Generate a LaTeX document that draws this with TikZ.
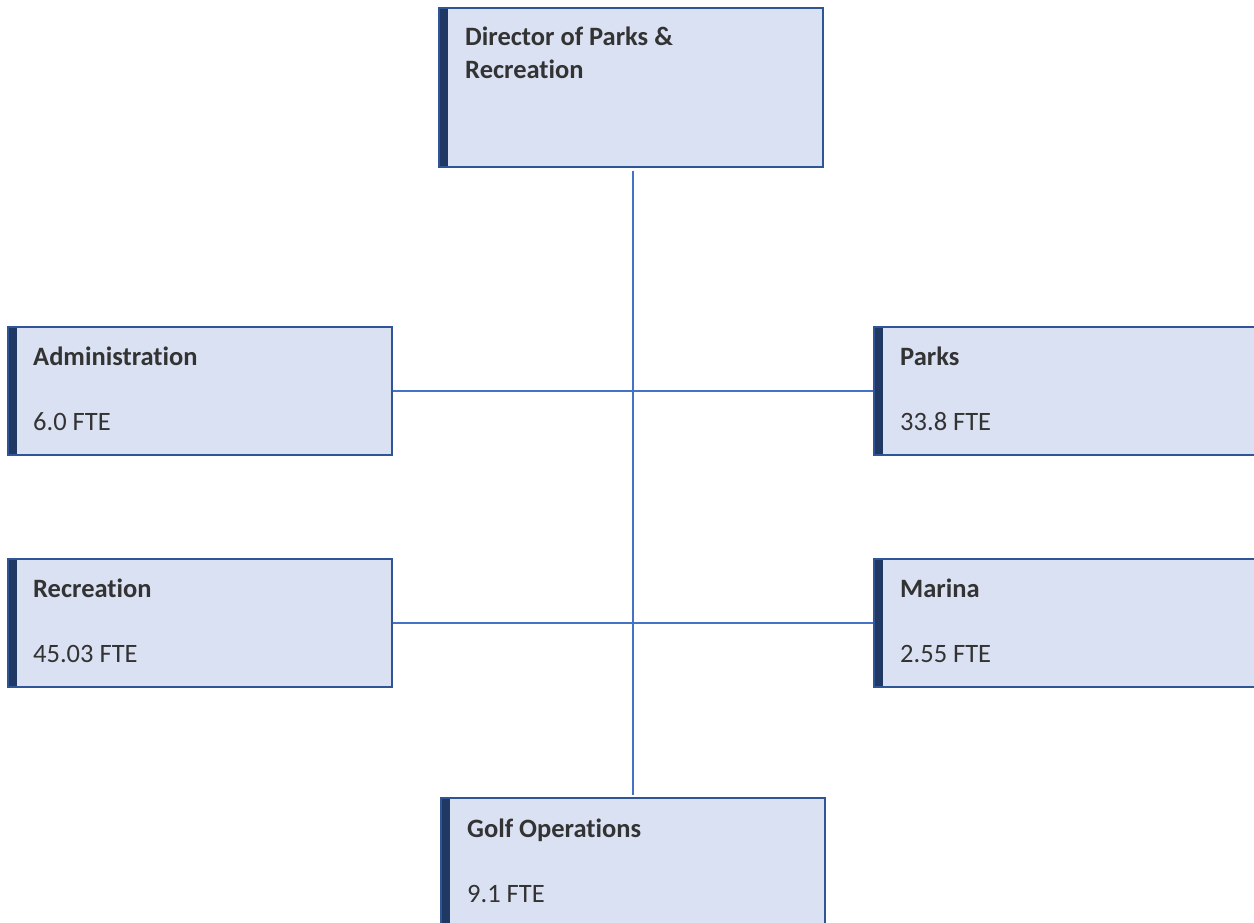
\documentclass[tikz,border=0pt]{standalone}
\usepackage{fontspec}
\setmainfont{Carlito}[Ligatures=NoCommon]
\definecolor{boxfill}{HTML}{DAE1F3}
\definecolor{boxborder}{HTML}{2F5597}
\definecolor{barcol}{HTML}{1F3864}
\definecolor{linecol}{HTML}{4472C4}
\definecolor{txt}{HTML}{333333}
\begin{document}
\begin{tikzpicture}[x=1pt,y=-1pt,
  box/.style={draw=boxborder, line width=1.6pt, fill=boxfill,
    minimum width=384pt, minimum height=128pt, inner sep=0pt, anchor=north west,
    path picture={\fill[barcol] (path picture bounding box.north west) rectangle ([xshift=9pt]path picture bounding box.south west);}},
  title/.style={anchor=base west, inner sep=0pt, font=\fontsize{26.5}{33}\selectfont\bfseries, text=txt, align=left},
  fte/.style={anchor=base west, inner sep=0pt, font=\fontsize{26.5}{33}\selectfont, text=txt},
  conn/.style={draw=linecol, line width=2pt}]
\clip (0,0) rectangle (1254,923);
\fill[white] (0,0) rectangle (1254,923);
% boxes
\node[box, minimum height=159pt] (dir) at (438,7) {};
\node[box] (adm) at (7,326) {};
\node[box] (parks) at (873,326) {};
\node[box] (rec) at (7,558) {};
\node[box] (marina) at (873,558) {};
\node[box] (golf) at (440,797) {};
% texts
\node[title] (tdir) at ([xshift=27pt,yshift=-72pt]dir.north west) {Director of Parks \&\\Recreation};
\node[title] (tadm) at ([xshift=26pt,yshift=-39pt]adm.north west) {Administration};
\node[fte] (fadm) at ([xshift=26pt,yshift=-104pt]adm.north west) {6.0 FTE};
\node[title] (tparks) at ([xshift=27pt,yshift=-39pt]parks.north west) {Parks};
\node[fte] (fparks) at ([xshift=27pt,yshift=-104pt]parks.north west) {33.8 FTE};
\node[title] (trec) at ([xshift=26pt,yshift=-39pt]rec.north west) {Recreation};
\node[fte] (frec) at ([xshift=26pt,yshift=-104pt]rec.north west) {45.03 FTE};
\node[title] (tmarina) at ([xshift=27pt,yshift=-39pt]marina.north west) {Marina};
\node[fte] (fmarina) at ([xshift=27pt,yshift=-104pt]marina.north west) {2.55 FTE};
\node[title] (tgolf) at ([xshift=27pt,yshift=-40pt]golf.north west) {Golf Operations};
\node[fte] (fgolf) at ([xshift=27pt,yshift=-105pt]golf.north west) {9.1 FTE};
% connectors
\coordinate (top) at ([yshift=-3pt]golf.north |- dir.south);
\draw[conn] (top) -- ([yshift=2pt]golf.north);
\draw[conn] (adm.east) -- (parks.west);
\draw[conn] (rec.east) -- (marina.west);
\end{tikzpicture}
\end{document}
